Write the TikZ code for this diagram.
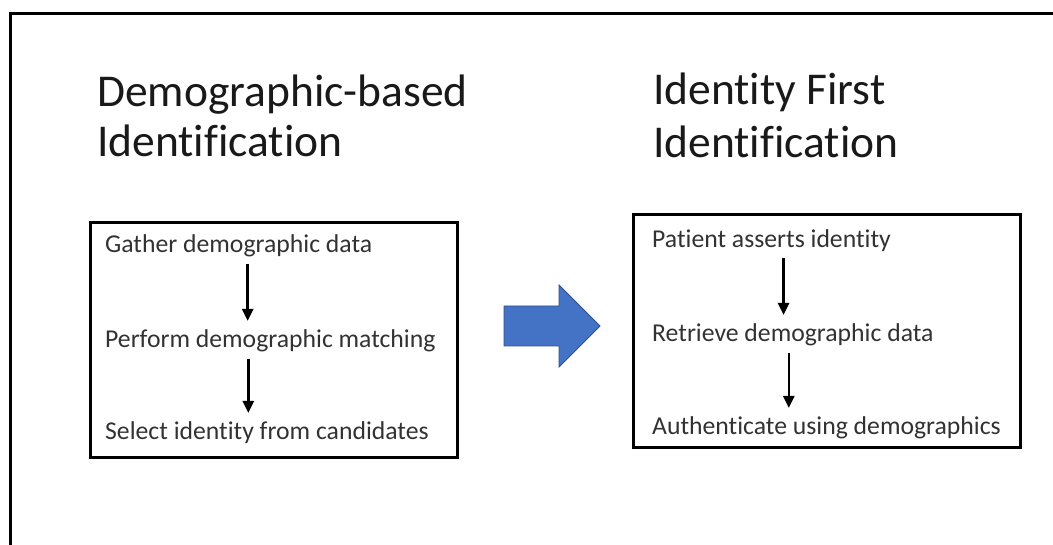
\documentclass[tikz,border=0pt]{standalone}
\usepackage{fontspec}
\setmainfont[Ligatures=NoCommon]{Carlito}
\usetikzlibrary{arrows.meta, positioning}
\definecolor{officeblue}{RGB}{68,114,196}
\definecolor{officeedge}{RGB}{47,82,143}
\definecolor{textgray}{RGB}{50,50,50}

\tikzset{
    title/.style={anchor=base west, inner sep=0pt, align=left, text=black!90,
        font=\fontsize{45.5}{51}\selectfont},
    steptext/.style={anchor=base west, inner sep=0pt, text=textgray,
        font=\fontsize{25.7}{30}\selectfont},
    flow/.style={line width=2.6pt, -{Triangle[length=12pt,width=11pt]},
        shorten <=6pt, shorten >=9pt}
}

\begin{document}
\begin{tikzpicture}[x=1pt, y=1pt]
    \clip (0,0) rectangle (1053,544);
    \draw[line width=3pt] (10,530) rectangle (1070,-10);

    % titles
    \node[title] (demotitle) at (97,437) {Demographic-based};
    \node[title] (demotitle2) at (97,387) {Identification};
    \node[title] (idtitle) at (653,439) {Identity First};
    \node[title] (idtitle2) at (653,386) {Identification};

    % demographic-based box
    \draw[line width=3pt] (90,321) rectangle (457,86);
    \node[steptext] (gather) at (105,291) {Gather demographic data};
    \node[steptext] (perform) at (105,196) {Perform demographic matching};
    \node[steptext] (select) at (105,104) {Select identity from candidates};
    \draw[flow] ([xshift=9pt]gather.south) -- ([xshift=9pt]gather.south |- perform.north);
    \draw[flow] ([xshift=-22pt]perform.south) -- ([xshift=-22pt]perform.south |- select.north);

    % identity first box
    \draw[line width=3pt] (633,329) rectangle (1020,96);
    \node[steptext] (asserts) at (652,296) {Patient asserts identity};
    \node[steptext] (retrieve) at (652,202) {Retrieve demographic data};
    \node[steptext] (authenticate) at (652,109) {Authenticate using demographics};
    \draw[flow] ([xshift=12pt]asserts.south) -- ([xshift=12pt]asserts.south |- retrieve.north);
    \draw[flow] ([xshift=-4pt]retrieve.south) -- ([xshift=-4pt]retrieve.south |- authenticate.north);

    % big arrow
    \filldraw[fill=officeblue, draw=officeedge, line width=0.75pt]
        (504,238) -- (559,238) -- (559,259) -- (600,218) -- (559,177)
        -- (559,198) -- (504,198) -- cycle;
\end{tikzpicture}
\end{document}
